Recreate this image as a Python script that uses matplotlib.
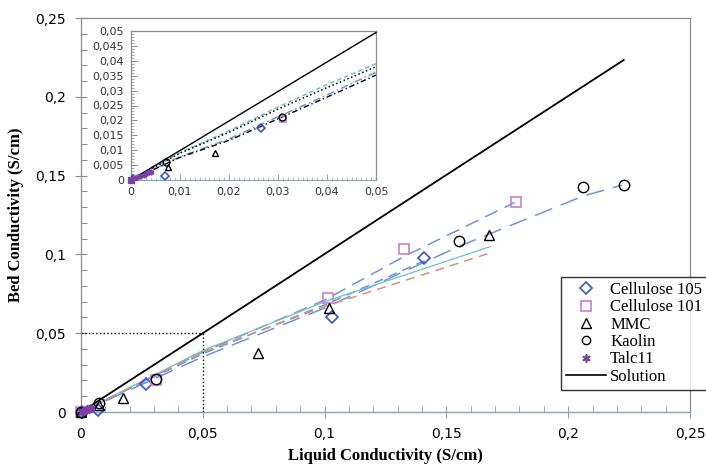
import matplotlib
matplotlib.use("Agg")
import matplotlib.pyplot as plt
from matplotlib.lines import Line2D

# ---- data ----
c105_x = [0.0005, 0.007, 0.0265, 0.103, 0.141]
c105_y = [0.0002, 0.0015, 0.0175, 0.0600, 0.0975]
c101_x = [0.0, 0.031, 0.1015, 0.1325, 0.1785]
c101_y = [0.0, 0.0205, 0.0723, 0.1033, 0.1332]
mmc_x = [0.0, 0.0075, 0.0172, 0.0727, 0.102, 0.1675]
mmc_y = [0.0, 0.0045, 0.0089, 0.0374, 0.0660, 0.1123]
kao_x = [0.0, 0.0072, 0.0308, 0.155, 0.206, 0.2228]
kao_y = [0.0, 0.0060, 0.0210, 0.1088, 0.1428, 0.1440]
talc_x = [0.0003, 0.0008, 0.0013, 0.0019, 0.0026, 0.0033, 0.0041]
talc_y = [0.0002, 0.0005, 0.0009, 0.0013, 0.0017, 0.0022, 0.0027]
sol_x = [0.0, 0.0075, 0.05, 0.1, 0.15, 0.2228]
sol_y = [0.0, 0.0075, 0.0500, 0.1003, 0.1505, 0.2234]

# fitted trend lines (main plot)
fit_c101_x = [0.0, 0.05, 0.1, 0.133, 0.178]
fit_c101_y = [0.0, 0.038, 0.071, 0.099, 0.133]
fit_kao_x = [0.0, 0.05, 0.1, 0.155, 0.206, 0.222]
fit_kao_y = [0.0, 0.035, 0.066, 0.105, 0.137, 0.144]
fit_c105_x = [0.0, 0.05, 0.1, 0.141]
fit_c105_y = [0.0, 0.037, 0.068, 0.096]
fit_teal_x = [0.0, 0.05, 0.1, 0.168]
fit_teal_y = [0.0, 0.039, 0.070, 0.105]
fit_orng_x = [0.0, 0.05, 0.1, 0.168]
fit_orng_y = [0.0, 0.038, 0.067, 0.101]

# inset trend lines
ins_x = [0.0, 0.01, 0.02, 0.03, 0.04, 0.05]
ins_teal = [0.0, 0.0092, 0.0165, 0.0245, 0.0320, 0.0390]
ins_dot = [0.0, 0.0090, 0.0160, 0.0238, 0.0310, 0.0380]
ins_bdd = [0.0, 0.0078, 0.0138, 0.0212, 0.0285, 0.0362]
ins_kdd = [0.0, 0.0076, 0.0133, 0.0205, 0.0278, 0.0352]
ins_sol_x = [0.0, 0.05]
ins_sol_y = [0.0, 0.0495]

main_ticks = [0, 0.05, 0.1, 0.15, 0.2, 0.25]
main_labels = ["0", "0,05", "0,1", "0,15", "0,2", "0,25"]
ins_xticks = [0, 0.01, 0.02, 0.03, 0.04, 0.05]
ins_xlabels = ["0", "0,01", "0,02", "0,03", "0,04", "0,05"]
ins_yticks = [0, 0.005, 0.01, 0.015, 0.02, 0.025, 0.03, 0.035, 0.04, 0.045, 0.05]
ins_ylabels = ["0", "0,005", "0,01", "0,015", "0,02", "0,025", "0,03",
               "0,035", "0,04", "0,045", "0,05"]

BLUE = "#3b55c8"
PINK = "#c77fd2"
PURPLE = "#7b3fa6"
LBLUE = "#6f93e2"
TEAL = "#6cc4c0"
ORANGE = "#d9926c"
SPINE = "#8a8a8a"
AXBLUE = "#86a6bc"
SERIF = ["Liberation Serif", "DejaVu Serif"]

fig = plt.figure(figsize=(7.06, 4.70), dpi=100)
ax = fig.add_axes([0.1147, 0.1234, 0.8626, 0.838])


def draw_markers(a, ms, clip):
    kw = dict(clip_on=clip, zorder=5)
    a.plot(c105_x, c105_y, "D", ms=ms * 0.85, mfc="none", mec=BLUE, mew=1.2, **kw)
    a.plot(c101_x, c101_y, "s", ms=ms, mfc="none", mec=PINK, mew=1.2, **kw)
    a.plot(mmc_x, mmc_y, "^", ms=ms, mfc="none", mec="black", mew=1.0, **kw)
    a.plot(kao_x, kao_y, "o", ms=ms, mfc="none", mec="black", mew=1.0, **kw)
    a.plot(talc_x, talc_y, marker=(6, 2, 0), ls="none", ms=ms * 0.8, mec=PURPLE, mew=1.2, **kw)


# trend lines
ax.plot(fit_c101_x, fit_c101_y, color=LBLUE, lw=1.1, dashes=(9, 5))
ax.plot(fit_kao_x, fit_kao_y, color=LBLUE, lw=1.1, dashes=(12, 6))
ax.plot(fit_c105_x, fit_c105_y, color=LBLUE, lw=1.1, dashes=(6, 4))
ax.plot(fit_teal_x, fit_teal_y, color=TEAL, lw=0.9)
ax.plot(fit_orng_x, fit_orng_y, color=ORANGE, lw=1.1, dashes=(6, 4))
ax.plot(sol_x, sol_y, color="black", lw=1.3, zorder=4)
draw_markers(ax, 7.5, False)

# dotted guide lines at 0,05
ax.plot([0, 0.05], [0.05, 0.05], color="black", lw=1.0, ls=":")
ax.plot([0.05, 0.05], [0, 0.05], color="black", lw=1.0, ls=":")

ax.set_xlim(0, 0.25)
ax.set_ylim(0, 0.25)
ax.set_xticks(main_ticks)
ax.set_xticklabels(main_labels)
ax.set_yticks(main_ticks)
ax.set_yticklabels(main_labels)
ax.set_xticks([i * 0.01 for i in range(26)], minor=True)
ax.set_yticks([i * 0.01 for i in range(26)], minor=True)
ax.tick_params(which="major", direction="inout", length=8, width=0.8, color=SPINE,
               labelsize=10, pad=7)
ax.tick_params(which="minor", direction="in", length=4, width=0.7, color=SPINE)
ax.tick_params(axis="x", which="both", color=AXBLUE)
for s in ("top", "right", "left"):
    ax.spines[s].set_color(SPINE)
    ax.spines[s].set_linewidth(0.9)
ax.spines["bottom"].set_color(AXBLUE)
ax.spines["bottom"].set_linewidth(1.0)

ax.set_xlabel("Liquid Conductivity (S/cm)", fontfamily=SERIF, fontweight="bold",
              fontsize=12, labelpad=5)
ax.set_ylabel("Bed Conductivity (S/cm)", fontfamily=SERIF, fontweight="bold",
              fontsize=12, labelpad=8)

handles = [
    Line2D([], [], ls="none", marker="D", ms=6, mfc="none", mec=BLUE, mew=1.2),
    Line2D([], [], ls="none", marker="s", ms=7, mfc="none", mec=PINK, mew=1.2),
    Line2D([], [], ls="none", marker="^", ms=7, mfc="none", mec="black", mew=1.0),
    Line2D([], [], ls="none", marker="o", ms=6, mfc="none", mec="black", mew=1.0),
    Line2D([], [], ls="none", marker=(6, 2, 0), ms=6, mec=PURPLE, mew=1.2),
    Line2D([], [], color="black", lw=1.2),
]
labels = ["Cellulose 105", "Cellulose 101", "MMC", "Kaolin", "Talc11", "Solution"]
leg = fig.legend(handles, labels, loc="upper left", bbox_to_anchor=(561 / 706, 1 - 277 / 470),
                 prop={"family": SERIF, "size": 12}, frameon=True, fancybox=False,
                 edgecolor="black", handlelength=2.4, handletextpad=0.25,
                 labelspacing=0.08, borderpad=0.3, borderaxespad=0)
leg.get_frame().set_linewidth(1.0)

# inset
ins = fig.add_axes([131 / 706, 1 - 180 / 470, 245 / 706, 149 / 470])
ins.plot(ins_x, ins_teal, color=TEAL, lw=1.1, dashes=(3, 2))
ins.plot(ins_x, ins_dot, color="black", lw=1.1, ls=":")
ins.plot(ins_x, ins_bdd, color=LBLUE, lw=1.1, dashes=(5, 2, 1, 2))
ins.plot(ins_x, ins_kdd, color="black", lw=1.0, dashes=(4, 2, 1, 2))
ins.plot(ins_sol_x, ins_sol_y, color="black", lw=1.0, zorder=4, clip_on=False)
draw_markers(ins, 5, True)
# points sitting on the inset's lower-left corner
ins.plot([0.0], [0.0], "s", ms=5, color=PURPLE, clip_on=False, zorder=6)
ins.set_xlim(0, 0.05)
ins.set_ylim(0, 0.05)
ins.set_xticks(ins_xticks)
ins.set_xticklabels(ins_xlabels)
ins.set_yticks(ins_yticks)
ins.set_yticklabels(ins_ylabels)
ins.set_xticks([i * 0.001 for i in range(51)], minor=True)
ins.set_yticks([i * 0.001 for i in range(51)], minor=True)
ins.tick_params(which="major", direction="in", length=4, width=0.7, color=SPINE,
                labelsize=8, labelcolor="#333333", pad=5)
ins.tick_params(which="minor", direction="in", length=2, width=0.5, color=SPINE)
ins.tick_params(axis="x", which="both", color=AXBLUE)
for s in ("top", "right", "left"):
    ins.spines[s].set_color(SPINE)
    ins.spines[s].set_linewidth(0.9)
ins.spines["bottom"].set_color(AXBLUE)

fig.savefig("out.png", dpi=100)
